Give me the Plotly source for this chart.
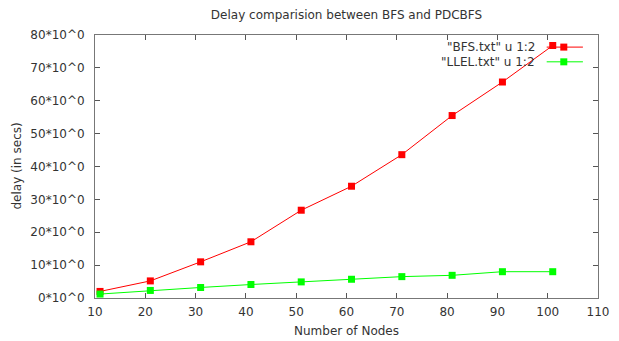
import plotly.graph_objects as go

nodes = [11, 21, 31, 41, 51, 61, 71, 81, 91, 101]
bfs_delay = [2.0, 5.2, 11.0, 17.1, 26.7, 34.0, 43.6, 55.5, 65.7, 76.8]
llel_delay = [1.2, 2.3, 3.2, 4.1, 4.9, 5.7, 6.5, 6.9, 8.0, 8.0]

series_names = ['"BFS.txt" u 1:2', '"LLEL.txt" u 1:2']
series_colors = ["#ff0000", "#00ff00"]

x_ticks = list(range(10, 111, 10))
y_ticks = list(range(0, 81, 10))
y_ticktext = [f"{v}*10^0" for v in y_ticks]

FONT = "DejaVu Sans"
FS = 12
TXT = "#333333"

fig = go.Figure()
for name, ys, col in zip(series_names, [bfs_delay, llel_delay], series_colors):
    fig.add_trace(go.Scatter(
        x=nodes, y=ys, name=name, mode="lines+markers",
        line=dict(color=col, width=1),
        marker=dict(symbol="square", size=7, color=col, line=dict(width=0)),
        showlegend=False,
    ))

# gnuplot-style key: text right-aligned, sample line + marker to the right
key_y = [0.954, 0.898]
shapes = []
annotations = []
for name, col, ky in zip(series_names, series_colors, key_y):
    annotations.append(dict(
        x=0.879, y=ky, xref="paper", yref="paper", text=name,
        xanchor="right", yanchor="middle", showarrow=False,
        font=dict(family=FONT, size=FS, color=TXT),
    ))
    shapes.append(dict(type="line", xref="paper", yref="paper",
                       x0=0.898, x1=0.970, y0=ky, y1=ky,
                       line=dict(color=col, width=1)))
    shapes.append(dict(type="rect", xref="paper", yref="paper",
                       xsizemode="pixel", ysizemode="pixel",
                       xanchor=0.932, yanchor=ky,
                       x0=-3.5, x1=3.5, y0=-3.5, y1=3.5,
                       fillcolor=col, line=dict(width=0)))

# axis titles as annotations (pixel placement)
annotations.append(dict(x=0.5, y=0, xref="paper", yref="paper",
                        text="Number of Nodes", showarrow=False,
                        xanchor="center", yanchor="middle", yshift=-33,
                        font=dict(family=FONT, size=FS, color=TXT)))
annotations.append(dict(x=0, y=0.5, xref="paper", yref="paper",
                        text="delay (in secs)", showarrow=False, textangle=-90,
                        xanchor="center", yanchor="middle", xshift=-79,
                        font=dict(family=FONT, size=FS, color=TXT)))

fig.update_layout(
    width=619, height=341,
    margin=dict(l=95, r=21, t=35, b=43, autoexpand=False),
    paper_bgcolor="white", plot_bgcolor="white",
    font=dict(family=FONT, size=FS, color=TXT),
    title=dict(text="Delay comparision between BFS and PDCBFS",
               x=(95 + 598) / 2 / 619, xanchor="center",
               y=1 - 15 / 341, yanchor="middle",
               font=dict(family=FONT, size=FS, color=TXT)),
    shapes=shapes,
    annotations=annotations,
    xaxis=dict(range=[10, 110], tickvals=x_ticks, ticks="inside", ticklen=5,
               tickcolor="#555", showline=True, linecolor="#777", linewidth=1,
               mirror="ticks", showgrid=False, zeroline=False,
               ticklabelstandoff=3, automargin=False),
    yaxis=dict(range=[0, 80], tickvals=y_ticks, ticktext=y_ticktext,
               ticks="inside", ticklen=5, tickcolor="#555",
               showline=True, linecolor="#777", linewidth=1,
               mirror="ticks", showgrid=False, zeroline=False,
               ticklabelstandoff=7, automargin=False),
)

fig.write_html("out.html")
